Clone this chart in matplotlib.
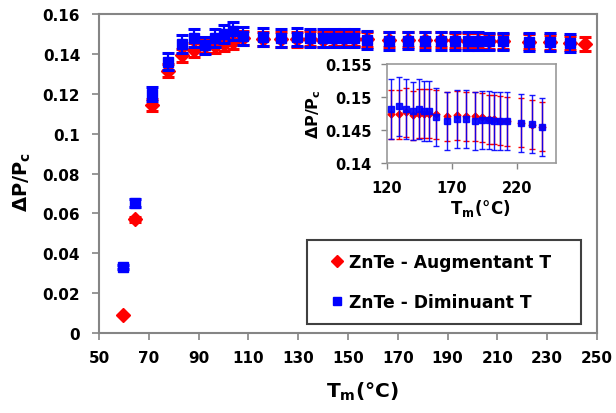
import numpy as np
import matplotlib
matplotlib.use('Agg')
import matplotlib.pyplot as plt
from matplotlib.lines import Line2D

plt.rcParams['font.family'] = 'DejaVu Sans'
plt.rcParams['font.weight'] = 'bold'
plt.rcParams['mathtext.default'] = 'bf'

# temperatures (°C), shared by both runs
temp = [59.5, 64.5, 71.2, 77.8, 83.5, 88.3, 92.6, 96.6, 100.2, 103.7, 108.0, 115.7,
        123.3, 129.6, 134.8, 140.0, 144.5, 148.6, 152.3, 157.6, 166.3, 174.2,
        181.1, 187.4, 193.1, 198.1, 202.4, 206.6, 212.3, 222.7, 231.3, 239.1]
temp_up = temp + [245.2]

# ZnTe - Augmentant T (red)
dp_up = [0.009, 0.057, 0.1144, 0.1315, 0.1392, 0.1418, 0.144, 0.144, 0.145, 0.146, 0.148, 0.1475,
         0.1474, 0.1474, 0.1477, 0.1472, 0.1475, 0.1475, 0.1475, 0.1474, 0.1471, 0.1472,
         0.1471, 0.1471, 0.1469, 0.1466, 0.1466, 0.1464, 0.1463, 0.1461, 0.1458, 0.1455,
         0.145]
err_up = [0.0002, 0.0014, 0.0029, 0.0033, 0.0035, 0.0035, 0.0036, 0.0036, 0.0036, 0.0036, 0.0037, 0.0037,
          0.0037, 0.0037, 0.0037, 0.0037, 0.0037, 0.0037, 0.0037, 0.0037, 0.0037, 0.0037,
          0.0037, 0.0037, 0.0037, 0.0037, 0.0037, 0.0037, 0.0037, 0.0037, 0.0037, 0.0037,
          0.0037]

# ZnTe - Diminuant T (blue)
dp_down = [0.0333, 0.0651, 0.1199, 0.1361, 0.145, 0.148, 0.1443, 0.1478, 0.150, 0.1513, 0.1491, 0.1486,
           0.1482, 0.1486, 0.1482, 0.1479, 0.1482, 0.1479, 0.1479, 0.1470, 0.1464, 0.1467,
           0.1466, 0.1464, 0.1465, 0.1465, 0.1464, 0.1463, 0.1463, 0.1461, 0.1459, 0.1455]
err_down = [0.001, 0.002, 0.0036, 0.0042, 0.0044, 0.0045, 0.0044, 0.0045, 0.0045, 0.0045, 0.0045, 0.0045,
            0.0045, 0.0045, 0.0045, 0.0044, 0.0045, 0.0045, 0.0045, 0.0044, 0.0044, 0.0044,
            0.0044, 0.0044, 0.0044, 0.0044, 0.0044, 0.0044, 0.0044, 0.0044, 0.0044, 0.0044]

x_ticks = [50, 70, 90, 110, 130, 150, 170, 190, 210, 230, 250]
y_ticks = [0, 0.02, 0.04, 0.06, 0.08, 0.1, 0.12, 0.14, 0.16]
y_labels = ['0', '0.02', '0.04', '0.06', '0.08', '0.1', '0.12', '0.14', '0.16']
ins_x_ticks = [120, 170, 220]
ins_y_ticks = [0.14, 0.145, 0.15, 0.155]
ins_y_labels = ['0.14', '0.145', '0.15', '0.155']

RED = '#ff0000'
BLUE = '#0000ff'
SPINE = '#858585'

fig = plt.figure(figsize=(6.16, 4.14), dpi=100)
ax = fig.add_axes([0.1607, 0.1932, 0.8084, 0.7705])

ax.errorbar(temp_up, dp_up, yerr=err_up, fmt='D', color=RED, ms=7.5,
            elinewidth=1.6, capsize=4.5, capthick=2.2, zorder=3)
ax.errorbar(temp, dp_down, yerr=err_down, fmt='s', color=BLUE, ms=7.5,
            elinewidth=1.6, capsize=4.5, capthick=2.2, zorder=4)

ax.set_xlim(50, 250)
ax.set_ylim(0, 0.16)
ax.set_xticks(x_ticks)
ax.set_yticks(y_ticks, y_labels)
ax.tick_params(direction='out', length=5, width=1.2, color=SPINE, labelsize=11)
ax.tick_params(axis='x', pad=7)
ax.tick_params(axis='y', pad=8.5)
for s in ax.spines.values():
    s.set_color(SPINE)
    s.set_linewidth(1.5)

ax.set_xlabel('$T_m$(°C)', fontsize=14.5, fontweight='bold')
ax.xaxis.set_label_coords(0.528, -0.147)
ax.set_ylabel(r'$\Delta P/P_c$', fontsize=14, fontweight='bold')
ax.yaxis.set_label_coords(-0.1325, 0.477)

handles = [Line2D([], [], ls='none', marker='D', color=RED, ms=6),
           Line2D([], [], ls='none', marker='s', color=BLUE, ms=6)]
leg = ax.legend(handles, ['ZnTe - Augmentant T', 'ZnTe - Diminuant T'],
                loc='upper left', bbox_to_anchor=(306.7 / 616, 1 - 240.7 / 414, 274 / 616, 0.0),
                bbox_transform=fig.transFigure, mode='expand', borderaxespad=0,
                fontsize=12.3, frameon=True, fancybox=False, framealpha=1,
                handlelength=2.0, handletextpad=-0.35, borderpad=0.8, labelspacing=1.25)
leg.get_frame().set_edgecolor('#404040')
leg.get_frame().set_linewidth(1.5)

# inset zoom on the plateau
ins = fig.add_axes([387 / 616, 1 - 164 / 414, 169 / 616, 99 / 414])
i0, i1 = 12, 32
ins.errorbar(temp_up[i0:i1], dp_up[i0:i1], yerr=err_up[i0:i1], fmt='D', color=RED, ms=3.5,
             elinewidth=1.0, capsize=2.5, capthick=1.0, zorder=3)
ins.errorbar(temp[i0:i1], dp_down[i0:i1], yerr=err_down[i0:i1], fmt='s', color=BLUE, ms=4,
             elinewidth=1.0, capsize=2.5, capthick=1.0, alpha=0.9, zorder=4)
ins.set_xlim(120, 250)
ins.set_ylim(0.14, 0.155)
ins.set_xticks(ins_x_ticks)
ins.set_yticks(ins_y_ticks, ins_y_labels)
ins.tick_params(direction='out', length=4, width=1.0, color=SPINE, labelsize=10.5)
ins.tick_params(axis='x', pad=8.5)
ins.tick_params(axis='y', pad=7)
for s in ins.spines.values():
    s.set_color('#9a9a9a')
    s.set_linewidth(1.2)
ins.set_xlabel('$T_m$(°C)', fontsize=12, fontweight='bold')
ins.xaxis.set_label_coords(0.55, -0.343)
ins.set_ylabel(r'$\Delta P/P_c$', fontsize=11.5, fontweight='bold')
ins.yaxis.set_label_coords(-0.377, 0.505)

fig.savefig('out.png', dpi=100)
